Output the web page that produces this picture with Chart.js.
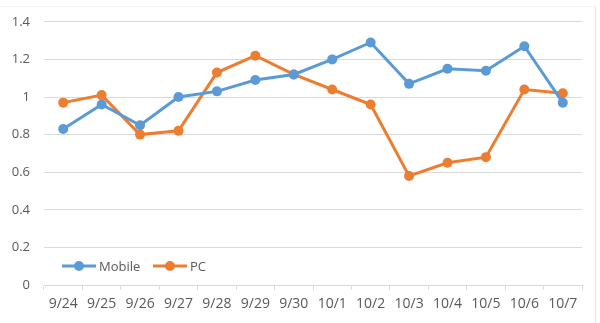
<!DOCTYPE html>
<html>
<head>
<meta charset="utf-8">
<script src="https://cdn.jsdelivr.net/npm/chart.js@4"></script>
<style>
  html, body { margin: 0; padding: 0; background: #fff; }
  #wrap { width: 600px; height: 323px; position: relative; }
</style>
</head>
<body>
<div id="wrap"><canvas id="c" width="600" height="323"></canvas></div>
<script>
const days = ['9/24','9/25','9/26','9/27','9/28','9/29','9/30','10/1','10/2','10/3','10/4','10/5','10/6','10/7'];
const mobile = [0.83, 0.96, 0.85, 1.00, 1.03, 1.09, 1.12, 1.20, 1.29, 1.07, 1.15, 1.14, 1.27, 0.97];
const pc     = [0.97, 1.01, 0.80, 0.82, 1.13, 1.22, 1.12, 1.04, 0.96, 0.58, 0.65, 0.68, 1.04, 1.02];

const BLUE = '#5b9bd5', ORANGE = '#ed7d31';
const TXT = '#595959', GRID = '#d9d9d9';
const FONT = "'Open Sans', 'Noto Sans', sans-serif";

// legend sits inside the plot, plus the faint frame on the top/right
const decor = {
  id: 'decor',
  afterDraw(ch) {
    const c = ch.ctx; c.save();
    c.strokeStyle = '#e6e6e6'; c.lineWidth = 1;
    c.beginPath(); c.moveTo(595.5, 6); c.lineTo(595.5, 323); c.stroke();
    c.strokeStyle = '#f4f4f4';
    c.beginPath(); c.moveTo(0, 6.5); c.lineTo(595, 6.5); c.stroke();

    const items = [['Mobile', BLUE, 62], ['PC', ORANGE, 153]];
    const y = 266;
    c.font = '13px ' + FONT;
    c.textBaseline = 'middle';
    items.forEach(([name, col, x]) => {
      c.strokeStyle = col; c.lineWidth = 3;
      c.beginPath(); c.moveTo(x, y); c.lineTo(x + 34, y); c.stroke();
      c.fillStyle = col;
      c.beginPath(); c.arc(x + 17, y, 5, 0, Math.PI * 2); c.fill();
      c.fillStyle = TXT;
      c.fillText(name, x + 37, y + 1);
    });
    c.restore();
  }
};

const ds = (label, data, col) => ({
  label, data,
  borderColor: col, backgroundColor: col,
  borderWidth: 3, pointRadius: 5, pointHoverRadius: 5,
  pointBorderWidth: 0, tension: 0
});

new Chart(document.getElementById('c'), {
  type: 'line',
  plugins: [decor],
  data: {
    labels: days,
    datasets: [ds('Mobile', mobile, BLUE), ds('PC', pc, ORANGE)]
  },
  options: {
    responsive: false,
    animation: false,
    layout: { padding: { left: 0, right: 18, top: 19, bottom: 0 } },
    scales: {
      x: {
        offset: true,
        afterFit(a) { a.height = 38; },
        grid: { offset: true, drawOnChartArea: false, tickLength: 5, color: GRID },
        border: { display: true, color: GRID },
        ticks: { color: TXT, font: { family: FONT, size: 14 }, padding: 6, maxRotation: 0, autoSkip: false }
      },
      y: {
        min: 0, max: 1.4,
        afterFit(a) { a.width = 44; },
        grid: { color: GRID, drawTicks: false },
        border: { display: false },
        ticks: {
          stepSize: 0.2, padding: 14, color: TXT,
          font: { family: FONT, size: 13 },
          callback: v => +v.toFixed(1) + ''
        }
      }
    },
    plugins: { legend: { display: false }, tooltip: { enabled: false } }
  }
});
</script>
</body>
</html>
